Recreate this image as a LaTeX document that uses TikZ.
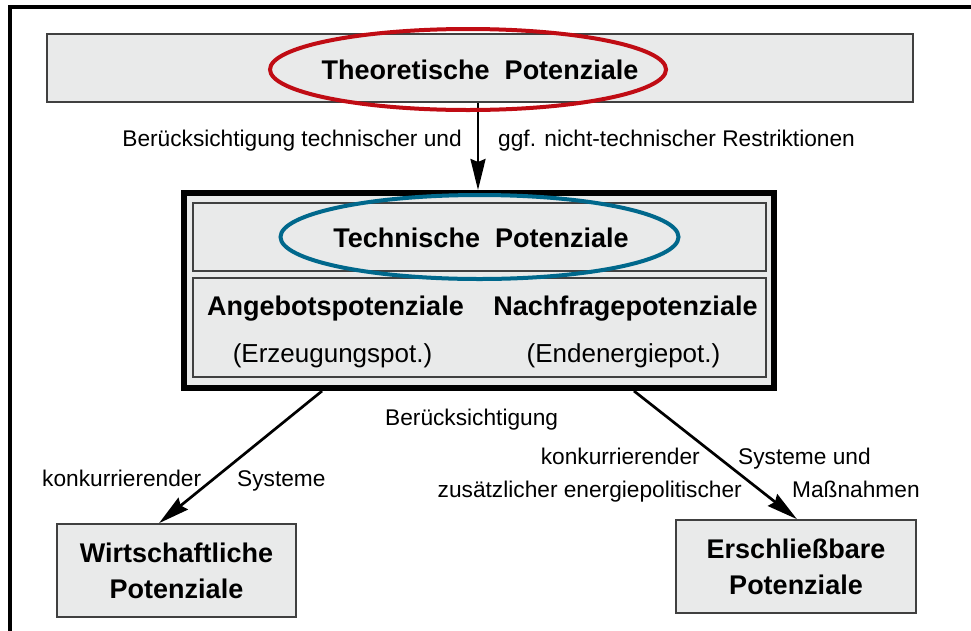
\documentclass[tikz,border=0pt]{standalone}
\usepackage{fontspec}
\setmainfont{Liberation Sans}
\usetikzlibrary{arrows.meta,shapes.geometric,calc}
\definecolor{boxgray}{RGB}{233,234,234}
\definecolor{boxline}{RGB}{64,64,64}
\definecolor{ellred}{RGB}{192,12,20}
\definecolor{ellblue}{RGB}{0,104,140}
\tikzset{
  graybox/.style={rectangle, draw=boxline, fill=boxgray, line width=1.6pt, inner sep=0pt},
  ring/.style={ellipse, line width=4pt, inner sep=0pt},
  title/.style={font=\fontsize{27}{36}\selectfont\bfseries, inner sep=0pt, anchor=base},
  sub/.style={font=\fontsize{26}{31}\selectfont, inner sep=0pt, anchor=base},
  lbl/.style={font=\fontsize{22.7}{27}\selectfont, inner sep=0pt},
  arr/.style={line width=2.7pt, -{Stealth[length=31pt,width=15pt,inset=3pt]}},
}
\begin{document}
\begin{tikzpicture}[x=1pt,y=-1pt]
\useasboundingbox (0,0) rectangle (971,630);
% outer frame (cropped)
\draw[line width=3.5pt, line join=miter] (10,632) -- (10,7) -- (973,7);

% top box
\node[graybox, minimum width=866pt, minimum height=68pt] (topbox) at (480,68) {};
\node[title] (theo) at (480,79) {Theoretische\hspace{15pt}Potenziale};

% technical block
\node[rectangle, draw=black, fill=boxgray, line width=6pt, inner sep=0pt,
      minimum width=590pt, minimum height=195pt] (tech) at (479,290.5) {};
\node[graybox, minimum width=573pt, minimum height=68pt] (techtop) at (479.5,237) {};
\node[graybox, minimum width=573pt, minimum height=99pt] (techbot) at (479.5,327.5) {};
\node[title] (techt) at (481,247) {Technische\hspace{15pt}Potenziale};
\node[title] (angebot) at (335.5,315) {Angebotspotenziale};
\node[title] (nachfrage) at (625.5,315) {Nachfragepotenziale};
\node[sub] (erz) at (332.5,362) {(Erzeugungspot.)};
\node[sub] (end) at (623.5,362) {(Endenergiepot.)};

% bottom boxes
\node[graybox, minimum width=239pt, minimum height=93pt, align=center,
      font=\fontsize{27}{36}\selectfont\bfseries] (wirt) at (176.5,570.5) {Wirtschaftliche\\Potenziale};
\node[graybox, minimum width=240pt, minimum height=93pt, align=center,
      font=\fontsize{27}{36}\selectfont\bfseries] (ersch) at (796,566.5) {Erschließbare\\Potenziale};

% labels
\node[lbl, anchor=base east] (l1) at (462,146) {Berücksichtigung technischer und};
\node[lbl, anchor=base west] (l2) at (498,146) {ggf. nicht-technischer Restriktionen};
\node[lbl, anchor=base west] (l3) at (385,425) {Berücksichtigung};
\node[lbl, anchor=base west] (l4) at (42,486) {konkurrierender};
\node[lbl, anchor=base west] (l5) at (237,486) {Systeme};
\node[lbl, anchor=base east] (l6) at (700,464) {konkurrierender};
\node[lbl, anchor=base west] (l7) at (738,464) {Systeme und};
\node[lbl, anchor=base east] (l8) at (742,497) {zusätzlicher energiepolitischer};
\node[lbl, anchor=base west] (l9) at (792,497) {Maßnahmen};

% connectors
\coordinate (xa) at (478,0);
\coordinate (xb) at (322,0);
\coordinate (xc) at (159,0);
\coordinate (xd) at (634,0);
\coordinate (xe) at (797,0);
\draw[arr] (topbox.south -| xa) -- (tech.north -| xa);
\draw[arr] (tech.south -| xb) -- (wirt.north -| xc);
\draw[arr] (tech.south -| xd) -- (ersch.north -| xe);

% ellipses
\node[ring, draw=ellred, minimum width=396pt, minimum height=81pt] (redring) at (468,69.5) {};
\node[ring, draw=ellblue, minimum width=398pt, minimum height=84pt] (bluering) at (479.5,237) {};
\end{tikzpicture}
\end{document}
